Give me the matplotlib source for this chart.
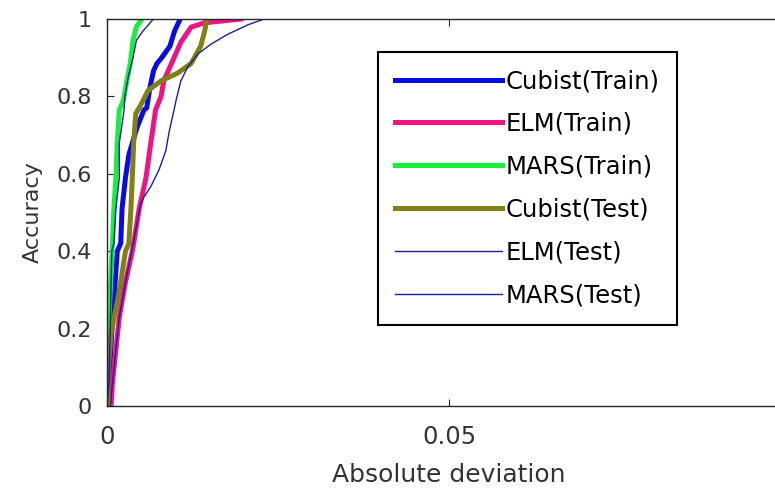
import numpy as np
import matplotlib
matplotlib.use('Agg')
import matplotlib.pyplot as plt

# lecture des courbes sur l'image (x = deviation absolue, y = precision)
cub_tr_x = [0, 0.0003, 0.0007, 0.001, 0.0015, 0.002, 0.0022, 0.0027, 0.0032, 0.0044, 0.0054,
            0.0058, 0.0063, 0.0068, 0.0073, 0.008, 0.0092, 0.0099, 0.0107]
cub_tr_y = [0, 0.06, 0.19, 0.27, 0.40, 0.42, 0.51, 0.59, 0.65, 0.72, 0.765,
            0.77, 0.825, 0.866, 0.885, 0.90, 0.93, 0.97, 1.0]

elm_tr_x = [0.0006, 0.0008, 0.0013, 0.0018, 0.0027, 0.0037, 0.0039, 0.0047, 0.0057, 0.0064,
            0.0071, 0.0079, 0.0083, 0.0094, 0.0108, 0.0123, 0.0142, 0.0196]
elm_tr_y = [0, 0.06, 0.145, 0.23, 0.32, 0.40, 0.42, 0.51, 0.59, 0.68,
            0.765, 0.80, 0.84, 0.884, 0.94, 0.979, 0.99, 1.0]

mars_tr_x = [0, 0.0001, 0.0003, 0.0008, 0.001, 0.0013, 0.0015, 0.0018, 0.0024, 0.0029,
             0.0034, 0.0038, 0.0043, 0.0051]
mars_tr_y = [0, 0.15, 0.23, 0.42, 0.51, 0.59, 0.68, 0.765, 0.79, 0.84,
             0.885, 0.945, 0.98, 1.0]

cub_te_x = [0, 0.0002, 0.0006, 0.0015, 0.002, 0.0027, 0.0032, 0.0035, 0.0037, 0.0039, 0.0042,
            0.005, 0.006, 0.0079, 0.0103, 0.0123, 0.0137, 0.0143, 0.0146]
cub_te_y = [0, 0.10, 0.19, 0.27, 0.32, 0.40, 0.42, 0.51, 0.59, 0.68, 0.755,
            0.78, 0.815, 0.84, 0.86, 0.885, 0.93, 0.97, 1.0]

elm_te_x = [0.0005, 0.0008, 0.0013, 0.0018, 0.0027, 0.0037, 0.0049, 0.0054, 0.0064, 0.0076,
            0.0086, 0.0091, 0.0098, 0.0101, 0.0108, 0.0118, 0.0133, 0.0152, 0.0176, 0.0206, 0.023]
elm_te_y = [0, 0.06, 0.145, 0.23, 0.32, 0.41, 0.52, 0.54, 0.567, 0.61,
            0.66, 0.71, 0.765, 0.79, 0.84, 0.876, 0.91, 0.935, 0.96, 0.985, 1.0]

mars_te_x = [0, 0.0003, 0.0005, 0.0007, 0.001, 0.0013, 0.0018, 0.0018, 0.0025, 0.0026,
             0.0031, 0.0038, 0.0043, 0.0053, 0.0068]
mars_te_y = [0, 0.06, 0.23, 0.40, 0.42, 0.51, 0.59, 0.68, 0.765, 0.80,
             0.85, 0.90, 0.945, 0.97, 1.0]

x_ticks = [0, 0.05]
x_labels = ['0', '0.05']
y_ticks = [0, 0.2, 0.4, 0.6, 0.8, 1]
y_labels = ['0', '0.2', '0.4', '0.6', '0.8', '1']

plt.rcParams['font.family'] = ['DejaVu Sans']

fig = plt.figure(figsize=(7.75, 4.9), dpi=100)
ax = fig.add_axes([107/775, 84/490, 684/775, 387/490])

thick = 3.6
thin = 1.0
ax.plot(cub_tr_x, cub_tr_y, color='#0a0ae6', lw=thick, label='Cubist(Train)')
ax.plot(elm_tr_x, elm_tr_y, color='#f01482', lw=thick, label='ELM(Train)')
ax.plot(mars_tr_x, mars_tr_y, color='#14f03c', lw=thick, label='MARS(Train)')
ax.plot(cub_te_x, cub_te_y, color='#808014', lw=thick, label='Cubist(Test)')
ax.plot(elm_te_x, elm_te_y, color='#1e1e9c', lw=thin, label='ELM(Test)')
ax.plot(mars_te_x, mars_te_y, color='#1e1e9c', lw=thin, label='MARS(Test)')

ax.set_xlim(0, 0.1)
ax.set_ylim(0, 1)
ax.set_xticks(x_ticks)
ax.set_xticklabels(x_labels)
ax.set_yticks(y_ticks)
ax.set_yticklabels(y_labels)

gris = '#333333'
ax.tick_params(direction='in', length=5, width=0.8, colors='#262626',
               labelcolor=gris, top=True, right=True)
ax.tick_params(axis='y', pad=11, labelsize=16)
ax.tick_params(axis='x', pad=14, labelsize=17.5)
for s in ax.spines.values():
    s.set_color('#262626')
    s.set_linewidth(1.0)

ax.set_xlabel('Absolute deviation', fontsize=18, color=gris, labelpad=10)
ax.set_ylabel('Accuracy', fontsize=16, color=gris, labelpad=10)

leg = ax.legend(loc='upper left', bbox_to_anchor=(378/775, 1 - 52/490),
                bbox_transform=fig.transFigure, fontsize=17.5, frameon=True,
                fancybox=False, edgecolor='black', framealpha=1,
                handlelength=4.4, handletextpad=0.15, labelspacing=0.78,
                borderpad=0.7, borderaxespad=0)
leg.get_frame().set_linewidth(1.5)

fig.savefig('out.png', dpi=100)
